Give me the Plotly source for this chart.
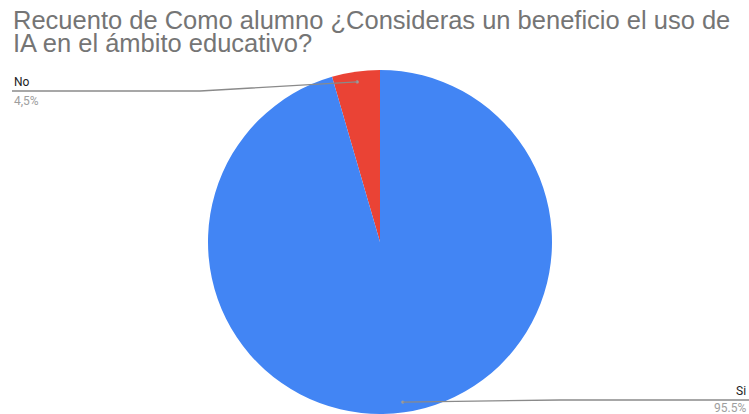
import math
import plotly.graph_objects as go

labels = ["No", "Si"]
values = [4.5, 95.5]
pct_text = ["4,5%", "95.5%"]
colors = ["#EA4335", "#4285F4"]
title_lines = ["Recuento de Como alumno ¿Consideras un beneficio el uso de",
               "IA en el ámbito educativo?"]

W, H = 749, 414
R = 172
CX, CY = 380, 242

total = sum(values)

fig = go.Figure()
fig.add_trace(go.Pie(
    labels=labels, values=values, sort=False, direction="clockwise",
    rotation=-values[0] / total * 360, marker=dict(colors=colors, line=dict(width=0)),
    textinfo="none", hoverinfo="label+percent", showlegend=False,
    domain=dict(x=[(CX - R) / W, (CX + R) / W], y=[0, 2 * R / H]),
))

def px(x):
    return x / W

def py(y):
    return 1 - y / H

start = 90.0
mids = []
for v in values:
    span = v / total * 360
    mids.append(start + span / 2)
    start += span

shapes = []
annotations = []
for i, (lab, pt, ang) in enumerate(zip(labels, pct_text, mids)):
    a = math.radians(ang)
    dx = CX + 0.94 * R * math.cos(a)
    dy = CY - 0.94 * R * math.sin(a)
    shapes.append(dict(type="circle", xref="paper", yref="paper",
                       x0=px(dx - 1.6), x1=px(dx + 1.6), y0=py(dy - 1.6), y1=py(dy + 1.6),
                       fillcolor="#9e9e9e", line=dict(width=0)))
    if i == 0:
        ly = 91
        pts = [(dx, dy), (200, ly), (12, ly)]
        tx, anchor = 12, "left"
        annotations.append(dict(xref="paper", yref="paper", x=px(tx), y=py(ly + 1),
                                text=pt, showarrow=False, xanchor=anchor, yanchor="top",
                                font=dict(family="Roboto", size=12, color="#9e9e9e")))
    else:
        ly = 400
        pts = [(dx, dy), (560, ly), (749, ly)]
        tx, anchor = 748, "right"
        annotations.append(dict(xref="paper", yref="paper", x=px(tx), y=py(417),
                                text=pt, showarrow=False, xanchor=anchor, yanchor="bottom",
                                font=dict(family="Roboto", size=12, color="#9e9e9e")))
    path = "M " + " L ".join(f"{px(x):.5f},{py(y):.5f}" for x, y in pts)
    shapes.append(dict(type="path", xref="paper", yref="paper", path=path,
                       line=dict(color="#8a8a8a", width=1.3)))
    annotations.append(dict(xref="paper", yref="paper", x=px(tx), y=py(ly),
                            text=lab, showarrow=False, xanchor=anchor, yanchor="bottom",
                            font=dict(family="Roboto", size=12, color="#222222")))

for j, line in enumerate(title_lines):
    annotations.append(dict(xref="paper", yref="paper", x=px(11), y=py(36 + 23 * j),
                            text=line, showarrow=False, xanchor="left", yanchor="bottom",
                            align="left",
                            font=dict(family="Liberation Sans", size=25.5, color="#757575")))

fig.update_layout(
    width=W, height=H, margin=dict(l=0, r=0, t=0, b=0),
    paper_bgcolor="white", plot_bgcolor="white",
    shapes=shapes, annotations=annotations,
)

fig.write_html("out.html")
